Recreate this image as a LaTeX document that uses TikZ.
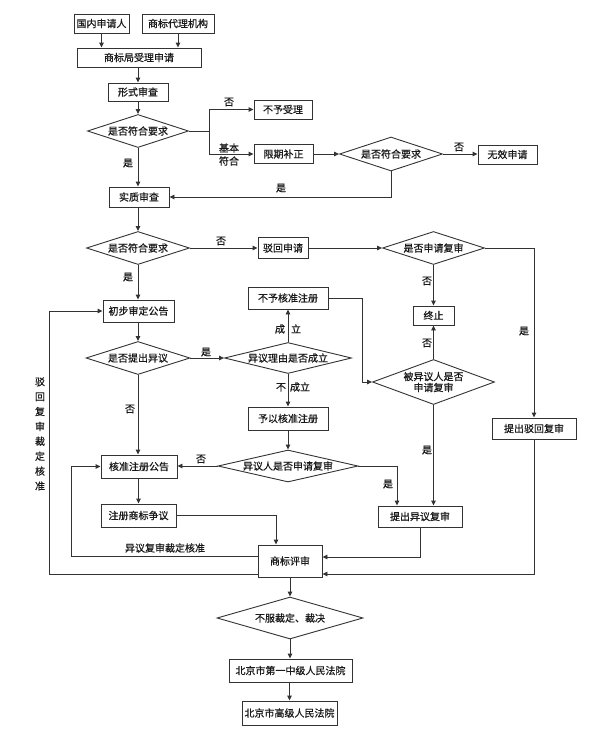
\documentclass[tikz,border=0pt]{standalone}
\usepackage{fontspec}
\setmainfont{Noto Sans CJK SC}[FakeBold=0.6]
\usetikzlibrary{arrows.meta,shapes.geometric}
\begin{document}
\begin{tikzpicture}[x=1pt,y=-1pt,
  font=\fontsize{10}{12}\selectfont,
  box/.style={draw=black!80, line width=0.9pt, rectangle, inner sep=0pt, text=black!90},
  dia/.style={draw=black!80, line width=0.9pt, diamond, inner sep=0pt},
  conn/.style={draw=black!80, line width=0.9pt},
  arr/.style={conn, -{Triangle[length=5pt,width=4.5pt]}},
  lbl/.style={inner sep=0pt, text=black!90},
]
\useasboundingbox[fill=white] (0,0) rectangle (600,737);

% boxes
\node[box, minimum width=55pt, minimum height=19pt] (a1) at (101.5,23.5) {国内申请人};
\node[box, minimum width=72pt, minimum height=19pt] (a2) at (178,23.5) {商标代理机构};
\node[box, minimum width=124pt, minimum height=19pt] (b) at (139,57.5) {商标局受理申请};
\node[box, minimum width=60pt, minimum height=18pt] (c) at (138,92) {形式审查};
\node[dia, minimum width=101pt, minimum height=33pt, label={[lbl]center:是否符合要求}] (d1) at (138,131) {};
\node[box, minimum width=58pt, minimum height=19pt] (e1) at (283,109.5) {不予受理};
\node[box, minimum width=59pt, minimum height=19pt] (e2) at (283.5,154) {限期补正};
\node[dia, minimum width=103pt, minimum height=34pt, label={[lbl]center:是否符合要求}] (d2) at (391,154) {};
\node[box, minimum width=59pt, minimum height=19pt] (f) at (507.5,154.5) {无效申请};
\node[box, minimum width=60pt, minimum height=20pt] (g) at (139,197) {实质审查};
\node[dia, minimum width=103pt, minimum height=33pt, label={[lbl]center:是否符合要求}] (d3) at (138,248) {};
\node[box, minimum width=50pt, minimum height=21pt] (h) at (283,248) {驳回申请};
\node[dia, minimum width=102pt, minimum height=33pt, label={[lbl]center:是否申请复审}] (d4) at (433.5,248) {};
\node[box, minimum width=41pt, minimum height=19pt] (k) at (433.5,315.5) {终止};
\node[box, minimum width=84pt, minimum height=21pt] (m) at (534,428.5) {提出驳回复审};
\node[box, minimum width=71pt, minimum height=22pt] (n) at (138.5,311) {初步审定公告};
\node[dia, minimum width=104pt, minimum height=33pt, label={[lbl]center:是否提出异议}] (d5) at (138,358) {};
\node[dia, minimum width=127pt, minimum height=31pt, label={[lbl]center:异议理由是否成立}] (d6) at (288,358) {};
\node[box, minimum width=80pt, minimum height=22pt] (p) at (288,298) {不予核准注册};
\node[box, minimum width=80pt, minimum height=23pt] (q) at (288,418.5) {予以核准注册};
\node[dia, minimum width=122pt, minimum height=45pt, label={[lbl, align=center, font=\fontsize{10}{11}\selectfont]center:被异议人是否\\申请复审}] (d7) at (433.5,382) {};
\node[dia, minimum width=140pt, minimum height=32pt, label={[lbl]center:异议人是否申请复审}] (d8) at (288,466) {};
\node[box, minimum width=76pt, minimum height=23pt] (r) at (139,466.5) {核准注册公告};
\node[box, minimum width=75pt, minimum height=23pt] (s) at (138.5,515.5) {注册商标争议};
\node[box, minimum width=84pt, minimum height=21pt] (t) at (420,516.5) {提出异议复审};
\node[box, minimum width=64pt, minimum height=32pt] (u) at (290,561) {商标评审};
\node[dia, minimum width=146pt, minimum height=42pt, label={[lbl]center:不服裁定、裁决}] (d9) at (290,618) {};
\node[box, minimum width=123pt, minimum height=23pt] (v) at (290.5,670.5) {北京市第一中级人民法院};
\node[box, minimum width=95pt, minimum height=24pt] (w) at (289.5,713) {北京市高级人民法院};

% junction coordinates
\coordinate (j1) at (209,131);
\coordinate (j3) at (362,298);
\coordinate (j4) at (397,466);
\coordinate (j5) at (420,557);
\coordinate (j6) at (534,574);
\coordinate (j7) at (276,515.5);
\coordinate (j8) at (71,556);
\coordinate (j9) at (49,574);

% connectors
\draw[arr] (a1.south) -- (a1.south |- b.north);
\draw[arr] (a2.south) -- (a2.south |- b.north);
\draw[arr] (b.south -| c.north) -- (c.north);
\draw[arr] (c.south) -- (d1.north);
\draw[conn] (d1.east) -- (j1);
\draw[arr] (j1) |- (e1.west);
\draw[arr] (j1) |- (e2.west);
\draw[arr] (e2.east) -- (d2.west);
\draw[arr] (d2.east) -- (d2.east -| f.west);
\draw[arr] (d2.south) -- (d2.south |- g.east) -- (g.east);
\draw[arr] (d1.south) -- (d1.south |- g.north);
\draw[arr] (g.south -| d3.north) -- (d3.north);
\draw[arr] (d3.east) -- (h.west);
\draw[arr] (h.east) -- (d4.west);
\draw[arr] (d4.south) -- (k.north);
\draw[arr] (d4.east) -| (m.north);
\draw[arr] (d3.south) -- (d3.south |- n.north);
\draw[arr] (n.south -| d5.north) -- (d5.north);
\draw[arr] (d5.east) -- (d6.west);
\draw[arr] (d6.north) -- (p.south);
\draw[arr] (d6.south) -- (q.north);
\draw[arr] (q.south) -- (d8.north);
\draw[arr] (p.east) -- (j3) |- (d7.west);
\draw[arr] (d7.north) -- (k.south);
\draw[arr] (d7.south) -- (d7.south |- t.north);
\draw[arr] (d8.east) -- (j4) -- (j4 |- t.north);
\draw[arr] (d8.west) -- (d8.west -| r.east);
\draw[arr] (d5.south) -- (d5.south |- r.north);
\draw[arr] (r.south -| s.north) -- (s.north);
\draw[arr] (s.east) -- (j7) -- (j7 |- u.north);
\draw[arr] (t.south -| j5) -- (j5) -- (j5 -| u.east);
\draw[arr] (m.south) -- (j6) -- (j6 -| u.east);
\draw[arr] (j8 -| u.west) -- (j8) |- (r.west);
\draw[arr] (j9 -| u.west) -- (j9) |- (n.west);
\draw[arr] (u.south) -- (d9.north);
\draw[arr] (d9.south) -- (d9.south |- v.north);
\draw[arr] (v.south -| w.north) -- (w.north);

% labels
\node[lbl] (l1) at (229,102) {否};
\node[lbl, align=center, font=\fontsize{10}{13}\selectfont] (l2) at (229,154.5) {基本\\符合};
\node[lbl] (l3) at (128,163) {是};
\node[lbl] (l4) at (459,147) {否};
\node[lbl] (l5) at (281,188) {是};
\node[lbl] (l6) at (221,241) {否};
\node[lbl] (l7) at (128,277) {是};
\node[lbl] (l8) at (427,281) {否};
\node[lbl] (l9) at (524,331) {是};
\node[lbl] (l10) at (206,352) {是};
\node[lbl] (l11) at (288,329) {成\hspace{6pt}立};
\node[lbl] (l12) at (427,343) {否};
\node[lbl] (l13) at (293,387) {不\hspace{4pt}成立};
\node[lbl] (l14) at (130,409) {否};
\node[lbl] (l15) at (427,450) {是};
\node[lbl] (l16) at (201,459) {否};
\node[lbl] (l17) at (388,484) {是};
\node[lbl] (l18) at (165,548) {异议复审裁定核准};
\node[lbl, align=center, font=\fontsize{10}{14.9}\selectfont] (l19) at (40,434) {驳\\回\\复\\审\\裁\\定\\核\\准};
\end{tikzpicture}
\end{document}
